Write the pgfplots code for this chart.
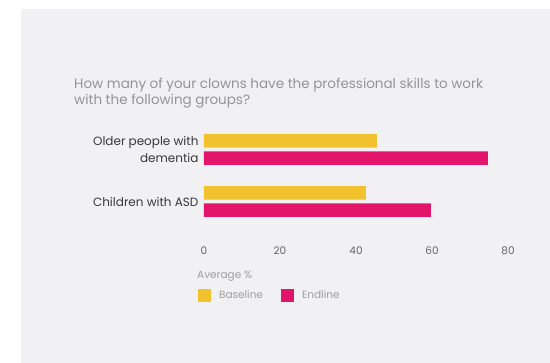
\documentclass[border=0pt]{standalone}
\usepackage{pgfplots}
\pgfplotsset{compat=1.18}
\usepackage{fontspec}
\setmainfont{Poppins}
\definecolor{bg}{HTML}{F1F1F3}
\definecolor{ylw}{HTML}{F2C12E}
\definecolor{pnk}{HTML}{E2156B}
\begin{document}
\begin{tikzpicture}[x=1pt,y=1pt]
\path[use as bounding box, fill=white] (0,0) rectangle (550,363);
\fill[bg] (21,0) rectangle (550,354);
\node[anchor=west, text=black!42, font=\fontsize{13.5}{16}\selectfont, inner sep=0pt] at (74,278) {How many of your clowns have the professional skills to work};
\node[anchor=west, text=black!42, font=\fontsize{13.5}{16}\selectfont, inner sep=0pt] at (74,262) {with the following groups?};
\node[anchor=west, text=black!38, font=\fontsize{10.5}{12}\selectfont, inner sep=0pt] at (197,87) {Average \%};
\begin{axis}[
  at={(204pt,130.3pt)}, anchor=south west,
  scale only axis, width=304pt, height=104pt,
  xbar, xmin=0, xmax=80, ymin=-0.6, ymax=1.4,
  axis line style={draw=none}, major tick length=0pt,
  xtick={0,20,40,60,80},
  ytick={0,1},
  yticklabels={Children with ASD, {Older people with\\dementia}},
  yticklabel style={align=right, font=\fontsize{12}{17}\selectfont, text=black!78, xshift=-2pt},
  xticklabel style={font=\fontsize{10.5}{12}\selectfont, text=black!60, yshift=-11pt},
  /pgf/number format/assume math mode=true,
  bar width=0.26,
  legend columns=2,
  legend style={at={(-0.03,-0.6)}, anchor=west, draw=none, fill=none,
    font=\fontsize{10.5}{12}\selectfont, text=black!38,
    /tikz/every odd column/.append style={column sep=6pt},
    /tikz/every even column/.append style={column sep=16pt}},
  legend image code/.code={\fill[#1] (0pt,-6.5pt) rectangle (13pt,6.5pt);},
]
\addplot[fill=ylw, draw=none, bar shift=0.165] coordinates {(42.6,0) (45.5,1)};
\addplot[fill=pnk, draw=none, bar shift=-0.165] coordinates {(59.7,0) (74.7,1)};
\legend{Baseline, Endline}
\end{axis}
\end{tikzpicture}
\end{document}
